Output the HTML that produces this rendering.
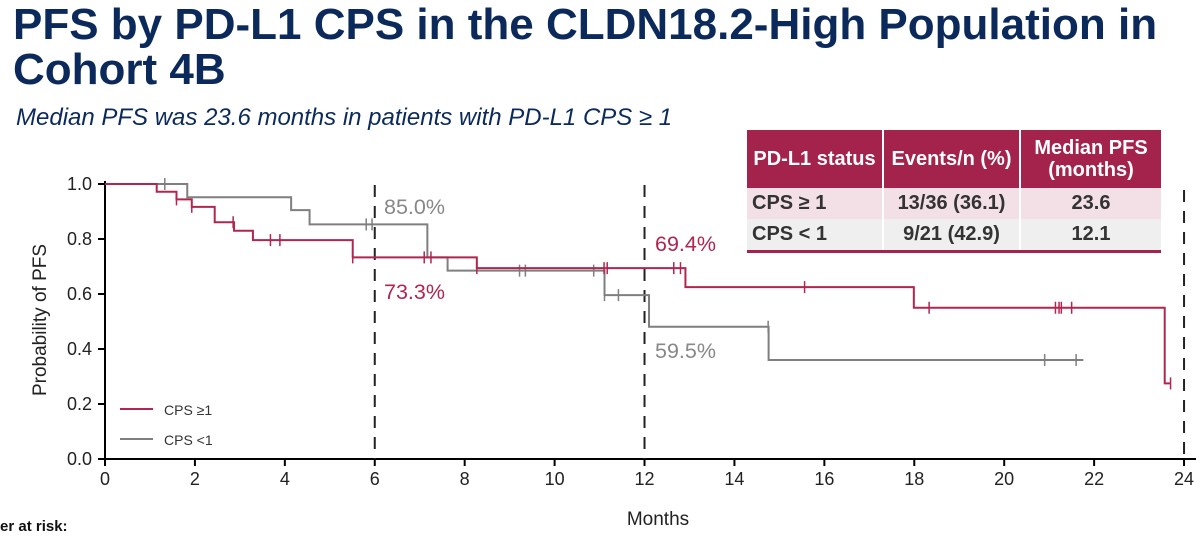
<!DOCTYPE html>
<html><head><meta charset="utf-8"><style>
body{margin:0;width:1200px;height:537px;background:#fff;overflow:hidden;font-family:"Liberation Sans",Arial,sans-serif;position:relative}
.t{position:absolute;left:13px;top:2px;color:#0b2a5b;font-weight:bold;font-size:44px;line-height:45px;margin:0;white-space:nowrap}
.sub{position:absolute;left:16px;top:104px;color:#0b2a5b;font-style:italic;font-size:24px}
table{position:absolute;left:747px;top:130px;width:414px;border-collapse:collapse;font-weight:bold;font-size:20px;color:#333}
th{background:#a4234c;color:#fff;height:58px;border-left:2px solid #fff;font-size:20px;line-height:22px;padding:0}
th:first-child{border-left:none}
td{height:31px;border-left:2px solid #fff;text-align:center;padding:0}
td:first-child{text-align:left;padding-left:5px;border-left:none}
tr.r1 td{background:#f3e0e6}tr.r2 td{background:#efefef;border-bottom:3px solid #a4234c}
</style></head><body>
<h1 class="t">PFS by PD-L1 CPS in the CLDN18.2-High Population in<br>Cohort 4B</h1>
<div class="sub">Median PFS was 23.6 months in patients with PD-L1 CPS ≥ 1</div>
<svg id="c" width="1200" height="537" style="position:absolute;left:0;top:0"></svg>
<table>
<tr><th style="width:135px">PD-L1 status</th><th style="width:135px">Events/n (%)</th><th>Median PFS<br>(months)</th></tr>
<tr class="r1"><td>CPS ≥ 1</td><td>13/36 (36.1)</td><td>23.6</td></tr>
<tr class="r2"><td>CPS &lt; 1</td><td>9/21 (42.9)</td><td>12.1</td></tr>
</table>
<div style="position:absolute;left:0;top:518px;font-weight:bold;font-size:15px;color:#111">er at risk:</div>
<script>
const xTicks=[0,2,4,6,8,10,12,14,16,18,20,22,24];
const yTicks=[0,0.2,0.4,0.6,0.8,1.0];
const redTimes=[0,1.15,1.59,1.93,2.44,2.87,3.29,5.51,8.27,12.91,17.99,23.57,23.7];
const redSurv=[1,0.972,0.944,0.917,0.861,0.83,0.796,0.733,0.694,0.625,0.55,0.275,0.275];
const redCens=[1.59,1.93,2.85,3.68,3.89,5.51,7.1,7.25,8.27,11.1,11.17,12.65,12.8,15.56,18.33,21.14,21.22,21.27,21.5,23.7];
const grayTimes=[0,1.83,4.14,4.55,7.17,7.62,11.11,12.1,14.76,21.76];
const graySurv=[1,0.952,0.905,0.853,0.733,0.685,0.596,0.481,0.36,0.36];
const grayCens=[1.33,5.81,5.94,9.22,9.35,10.87,11.11,11.42,14.75,20.9,21.6];
const ns="http://www.w3.org/2000/svg",svg=document.getElementById('c');
const X=m=>105+m*44.96,Y=p=>459-p*275;
function el(t,a,txt){const e=document.createElementNS(ns,t);for(const k in a)e.setAttribute(k,a[k]);if(txt!=null)e.textContent=txt;svg.appendChild(e);return e;}
function stepAt(T,S,t){let v=S[0];for(let i=0;i<T.length;i++)if(T[i]<=t)v=S[i];return v;}
let e;
e=el('line',{x1:105,y1:459,x2:1196,y2:459,stroke:'#000','stroke-width':2});

e=el('line',{x1:105,y1:181,x2:105,y2:460,stroke:'#000','stroke-width':2});

xTicks.forEach(v=>{el('line',{x1:X(v),y1:459,x2:X(v),y2:466,stroke:'#000','stroke-width':2});
e=el('text',{x:X(v),y:485,'text-anchor':'middle','font-size':18,fill:'#222'},v);
});
yTicks.forEach(v=>{el('line',{x1:98,y1:Y(v),x2:105,y2:Y(v),stroke:'#000','stroke-width':2});
e=el('text',{x:92,y:Y(v)+6,'text-anchor':'end','font-size':18,fill:'#222'},v.toFixed(1));
});
e=el('text',{x:658,y:525,'text-anchor':'middle','font-size':19,fill:'#222'},'Months');

e=el('text',{x:46,y:320,'text-anchor':'middle','font-size':19,fill:'#222',transform:'rotate(-90 46 320)'},'Probability of PFS');

[[6,185],[12,185],[24,190]].forEach(([m,t])=>{e=el('line',{x1:X(m),y1:t,x2:X(m),y2:459,stroke:'#222','stroke-width':2,'stroke-dasharray':'12 9'});
});
function curve(T,S,C,col,name){let d='M'+X(T[0])+','+Y(S[0]);
for(let i=1;i<T.length;i++){d+=' H'+X(T[i])+' V'+Y(S[i]);}
e=el('path',{d:d,fill:'none',stroke:col,'stroke-width':2});

C.forEach(t=>{const y=Y(stepAt(T,S,t));e=el('line',{x1:X(t),y1:y-6,x2:X(t),y2:y+6,stroke:col,'stroke-width':1.5});
});}
curve(grayTimes,graySurv,grayCens,'#7f7f7f','cps-lt-1');
curve(redTimes,redSurv,redCens,'#b0264f','cps-ge-1');
[['85.0%',384,214,'#888'],['73.3%',384,299,'#b0264f'],['69.4%',655,251,'#b0264f'],['59.5%',655,358,'#888']].forEach(a=>{
e=el('text',{x:a[1],y:a[2],'font-size':21.5,fill:a[3]},a[0]);});
e=el('line',{x1:120,y1:409,x2:153,y2:409,stroke:'#b0264f','stroke-width':2});
e=el('text',{x:164,y:415,'font-size':14,fill:'#333'},'CPS ≥1');
e=el('line',{x1:120,y1:439,x2:153,y2:439,stroke:'#7f7f7f','stroke-width':2});
e=el('text',{x:164,y:445,'font-size':14,fill:'#333'},'CPS <1');
</script>
</body></html>
